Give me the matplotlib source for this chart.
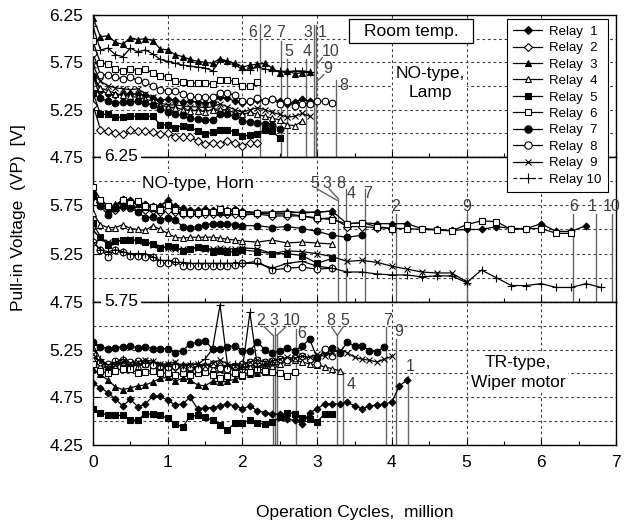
import numpy as np
import matplotlib
matplotlib.use("Agg")
import matplotlib.pyplot as plt
from matplotlib.lines import Line2D
from matplotlib.patches import Rectangle

plt.rcParams['font.family'] = ['Liberation Sans', 'DejaVu Sans']

# measurement schedules, million cycles
steps_01 = np.round(np.arange(0, 4.25, 0.1), 1)
steps_horn = np.round(np.concatenate([np.arange(0, 2.05, 0.1), np.arange(2.2, 6.85, 0.2)]), 1)

relay_ids = [1, 2, 3, 4, 5, 6, 7, 8, 9, 10]

# NO-type, Lamp  (pull-in voltage, V)
lamp_r1 = [5.60, 5.45, 5.42, 5.40, 5.42, 5.41, 5.42, 5.40, 5.37, 5.35, 5.36, 5.35, 5.33, 5.34, 5.33,
           5.32, 5.33, 5.38, 5.37, 5.34, 5.32, 5.33, 5.35, 5.34, 5.36, 5.34, 5.31, 5.33, 5.36, 5.34]
lamp_r2 = [5.30, 5.04, 5.02, 5.00, 4.99, 5.04, 5.02, 5.02, 5.01, 4.99, 5.00, 4.96, 4.96, 4.96, 4.92,
           4.89, 4.90, 4.89, 4.92, 4.90, 4.87, 4.90, 4.90]
lamp_r3 = [6.22, 6.02, 6.03, 5.96, 5.94, 6.01, 5.99, 6.00, 5.98, 5.89, 5.88, 5.83, 5.81, 5.78, 5.76,
           5.75, 5.74, 5.79, 5.76, 5.74, 5.70, 5.72, 5.73, 5.74, 5.69, 5.64, 5.66, 5.63, 5.64, 5.65]
lamp_r4 = [5.60, 5.48, 5.45, 5.42, 5.40, 5.39, 5.38, 5.36, 5.34, 5.30, 5.28, 5.27, 5.25, 5.24, 5.24,
           5.23, 5.25, 5.26, 5.24, 5.22, 5.20, 5.22, 5.20, 5.18, 5.16, 5.14, 5.09, 5.08, 5.13]
lamp_r5 = [5.43, 5.20, 5.20, 5.17, 5.17, 5.18, 5.18, 5.18, 5.18, 5.09, 5.09, 5.06, 5.08, 5.07, 5.02,
           4.99, 5.01, 5.04, 5.04, 5.01, 4.97, 4.98, 4.99, 5.04, 5.02, 4.95]
lamp_r6 = [5.97, 5.74, 5.73, 5.68, 5.66, 5.68, 5.66, 5.68, 5.64, 5.61, 5.60, 5.55, 5.54, 5.53, 5.53,
           5.53, 5.52, 5.56, 5.56, 5.55, 5.50, 5.50, 5.54]
lamp_r7 = [5.61, 5.37, 5.34, 5.32, 5.33, 5.33, 5.34, 5.32, 5.30, 5.26, 5.23, 5.20, 5.19, 5.16, 5.15,
           5.14, 5.14, 5.20, 5.20, 5.18, 5.13, 5.12, 5.11, 5.10, 5.09, 5.05]
lamp_r8 = [5.85, 5.62, 5.62, 5.60, 5.57, 5.59, 5.56, 5.54, 5.50, 5.46, 5.45, 5.45, 5.42, 5.39, 5.38,
           5.38, 5.38, 5.43, 5.43, 5.40, 5.34, 5.34, 5.37, 5.34, 5.36, 5.31, 5.34, 5.29, 5.31, 5.31,
           5.34, 5.34, 5.32]
lamp_r9 = [5.72, 5.55, 5.50, 5.48, 5.47, 5.46, 5.47, 5.42, 5.38, 5.32, 5.30, 5.30, 5.29, 5.28, 5.28,
           5.27, 5.28, 5.31, 5.28, 5.25, 5.22, 5.25, 5.27, 5.25, 5.22, 5.20, 5.17, 5.18, 5.21, 5.18]
lamp_r10 = [6.13, 5.88, 5.90, 5.83, 5.81, 5.90, 5.86, 5.88, 5.84, 5.78, 5.76, 5.74, 5.72, 5.71, 5.70,
            5.69, 5.66, 5.77, 5.76, 5.73, 5.67, 5.67, 5.70, 5.68, 5.66, 5.66, 5.65, 5.66, 5.66, 5.65]
lamp_life = [2.98, 2.23, 2.96, 2.85, 2.60, 2.23, 2.51, 3.25, 2.98, 2.98]

# NO-type, Horn
horn_r1 = [5.84, 5.78, 5.72, 5.74, 5.82, 5.80, 5.78, 5.76, 5.74, 5.74, 5.80, 5.74, 5.72, 5.70, 5.70,
           5.71, 5.70, 5.71, 5.70, 5.71, 5.69,
           5.67, 5.67, 5.67, 5.68, 5.68, 5.69, 5.56, 5.57, 5.56, 5.56, 5.56, 5.51, 5.50, 5.49, 5.50,
           5.50, 5.53, 5.51, 5.51, 5.56, 5.48, 5.48, 5.54]
horn_r2 = [5.86, 5.78, 5.72, 5.70, 5.73, 5.74, 5.72, 5.70, 5.70, 5.68, 5.70, 5.68, 5.66, 5.66, 5.66,
           5.66, 5.66, 5.67, 5.66, 5.66, 5.65,
           5.66, 5.64, 5.64, 5.64, 5.61, 5.62, 5.53, 5.53, 5.52, 5.51]
horn_r3 = [5.85, 5.78, 5.70, 5.76, 5.80, 5.78, 5.76, 5.73, 5.72, 5.74, 5.81, 5.72, 5.70, 5.69, 5.68,
           5.69, 5.69, 5.68, 5.68, 5.69, 5.68,
           5.68, 5.68, 5.69, 5.67, 5.68, 5.69]
horn_r4 = [5.67, 5.55, 5.52, 5.52, 5.55, 5.51, 5.50, 5.49, 5.54, 5.50, 5.46, 5.42, 5.41, 5.42, 5.42,
           5.42, 5.42, 5.41, 5.40, 5.39, 5.38,
           5.37, 5.39, 5.36, 5.37, 5.36, 5.35]
horn_r5 = [5.57, 5.42, 5.34, 5.38, 5.39, 5.39, 5.39, 5.37, 5.35, 5.31, 5.33, 5.32, 5.28, 5.30, 5.32,
           5.31, 5.27, 5.28, 5.27, 5.27, 5.29,
           5.27, 5.25, 5.25, 5.23, 5.15, 5.20]
horn_r6 = [5.94, 5.81, 5.74, 5.72, 5.80, 5.77, 5.79, 5.74, 5.73, 5.70, 5.75, 5.70, 5.67, 5.67, 5.67,
           5.68, 5.68, 5.71, 5.69, 5.69, 5.67,
           5.67, 5.66, 5.66, 5.64, 5.62, 5.60, 5.56, 5.57, 5.53, 5.51, 5.51, 5.50, 5.495, 5.485, 5.55,
           5.59, 5.58, 5.50, 5.51, 5.51, 5.46, 5.46]
horn_r7 = [5.87, 5.74, 5.65, 5.72, 5.74, 5.72, 5.68, 5.62, 5.63, 5.60, 5.62, 5.60, 5.53, 5.52, 5.53,
           5.55, 5.56, 5.56, 5.56, 5.55, 5.54,
           5.54, 5.52, 5.53, 5.51, 5.48, 5.44, 5.42, 5.44]
horn_r8 = [5.37, 5.29, 5.22, 5.29, 5.27, 5.23, 5.23, 5.22, 5.22, 5.15, 5.15, 5.17, 5.12, 5.12, 5.12,
           5.12, 5.12, 5.12, 5.12, 5.13, 5.15,
           5.17, 5.08, 5.10, 5.11, 5.09, 5.10]
horn_r9 = [5.49, 5.41, 5.37, 5.37, 5.39, 5.40, 5.38, 5.37, 5.34, 5.32, 5.31, 5.30, 5.30, 5.30, 5.31,
           5.30, 5.30, 5.31, 5.30, 5.30, 5.31,
           5.30, 5.25, 5.28, 5.27, 5.25, 5.22, 5.17, 5.18, 5.16, 5.12, 5.09, 5.06, 5.05, 5.05, 4.96]
horn_r10 = [5.37, 5.29, 5.27, 5.29, 5.27, 5.25, 5.25, 5.25, 5.22, 5.18, 5.18, 5.16, 5.16, 5.15, 5.15,
            5.15, 5.15, 5.15, 5.15, 5.15, 5.15,
            5.15, 5.10, 5.15, 5.17, 5.12, 5.10, 5.06, 5.06, 5.04, 5.03, 5.03, 5.01, 5.02, 5.02, 4.95,
            5.08, 5.00, 4.92, 4.92, 4.94, 4.90, 4.90, 4.94, 4.90]
horn_life = [6.73, 4.05, 3.28, 3.38, 3.28, 6.43, 3.64, 3.28, 5.00, 6.94]

# TR-type, Wiper motor
wiper_r1 = [4.90, 4.85, 4.80, 4.73, 4.66, 4.73, 4.65, 4.68, 4.76, 4.76, 4.72, 4.67, 4.68, 4.75, 4.63,
            4.64, 4.64, 4.66, 4.68, 4.66, 4.63, 4.66, 4.61, 4.59, 4.58, 4.57, 4.52, 4.51, 4.47, 4.59,
            4.63, 4.68, 4.68, 4.68, 4.70, 4.66, 4.63, 4.66, 4.67, 4.68, 4.70, 4.87, 4.93]
wiper_r2 = [5.18, 5.12, 5.08, 5.10, 5.12, 5.10, 5.11, 5.12, 5.10, 5.08, 5.06, 5.07, 5.08, 5.06, 5.05,
            5.08, 5.10, 5.08, 5.07, 5.06, 5.05, 5.08, 5.10, 5.09, 5.08]
wiper_r3 = [5.05, 4.99, 4.93, 4.86, 4.83, 4.85, 4.87, 4.88, 4.91, 4.95, 4.96, 4.92, 4.95, 4.93, 4.88,
            4.87, 4.92, 4.91, 4.92, 4.94, 4.97, 4.99, 5.00, 5.02, 5.03]
wiper_r4 = [5.15, 5.08, 5.05, 5.07, 5.12, 5.09, 5.08, 5.10, 5.09, 5.08, 5.10, 5.09, 5.07, 5.06, 5.08,
            5.09, 5.06, 5.05, 5.04, 5.06, 5.08, 5.07, 5.06, 5.07, 5.08, 5.10, 5.12, 5.14, 5.12, 5.10,
            5.09, 5.07, 5.05, 5.03]
wiper_r5 = [4.63, 4.59, 4.56, 4.56, 4.56, 4.51, 4.51, 4.58, 4.57, 4.56, 4.53, 4.47, 4.44, 4.55, 4.56,
            4.54, 4.51, 4.46, 4.41, 4.48, 4.48, 4.51, 4.48, 4.47, 4.49, 4.54, 4.59, 4.58, 4.53, 4.52,
            4.49, 4.58, 4.57]
wiper_r6 = [5.10, 5.03, 5.00, 5.03, 5.05, 5.05, 5.00, 5.02, 5.03, 5.01, 5.00, 4.98, 5.00, 4.98, 5.00,
            5.02, 4.98, 4.95, 4.97, 5.00, 4.98, 5.02, 5.05, 5.03, 5.02, 5.00, 4.97, 5.02]
wiper_r7 = [5.33, 5.28, 5.26, 5.27, 5.28, 5.29, 5.27, 5.28, 5.26, 5.26, 5.26, 5.22, 5.24, 5.31, 5.33,
            5.34, 5.26, 5.26, 5.28, 5.29, 5.24, 5.24, 5.33, 5.25, 5.21, 5.24, 5.27, 5.24, 5.29, 5.36,
            5.16, 5.24, 5.27, 5.21, 5.33, 5.29, 5.29, 5.24, 5.23, 5.28]
wiper_r8 = [5.20, 5.12, 5.10, 5.13, 5.14, 5.12, 5.13, 5.10, 5.09, 5.08, 5.07, 5.08, 5.06, 5.07, 5.05,
            5.07, 5.10, 5.06, 5.05, 5.08, 5.10, 5.12, 5.14, 5.12, 5.13, 5.15, 5.14, 5.16, 5.18, 5.15,
            5.10, 5.26, 5.18]
wiper_r9 = [5.20, 5.12, 5.09, 5.10, 5.12, 5.11, 5.12, 5.14, 5.13, 5.10, 5.10, 5.12, 5.08, 5.09, 5.10,
            5.08, 5.11, 5.14, 5.10, 5.08, 5.09, 5.12, 5.14, 5.12, 5.13, 5.15, 5.17, 5.16, 5.18, 5.17,
            5.20, 5.18, 5.22, 5.25, 5.22, 5.17, 5.15, 5.14, 5.12, 5.15, 5.18]
wiper_r10 = [5.30, 5.15, 5.05, 5.12, 5.15, 5.08, 5.10, 5.11, 5.12, 5.09, 5.08, 5.10, 5.09, 5.10, 5.10,
             5.15, 5.26, 5.72, 5.09, 5.10, 5.05, 5.64, 5.07, 5.10, 5.12]
wiper_life = [4.22, 2.41, 2.44, 3.35, 3.27, 2.72, 3.92, 3.27, 4.06, 2.46]

lamp = [lamp_r1, lamp_r2, lamp_r3, lamp_r4, lamp_r5, lamp_r6, lamp_r7, lamp_r8, lamp_r9, lamp_r10]
horn = [horn_r1, horn_r2, horn_r3, horn_r4, horn_r5, horn_r6, horn_r7, horn_r8, horn_r9, horn_r10]
wiper = [wiper_r1, wiper_r2, wiper_r3, wiper_r4, wiper_r5, wiper_r6, wiper_r7, wiper_r8, wiper_r9,
         wiper_r10]

# marker styles per relay
mk = {1: ('D', 'k', 3.5), 2: ('D', 'w', 3.8), 3: ('^', 'k', 4.5), 4: ('^', 'w', 4.5),
      5: ('s', 'k', 3.8), 6: ('s', 'w', 3.8), 7: ('o', 'k', 4.8), 8: ('o', 'w', 4.8),
      9: ('x', 'k', 4.5), 10: ('+', 'k', 6)}

fig = plt.figure(figsize=(6.34, 5.25), dpi=100)
L, W = 0.1467, 0.8249
ax_top = fig.add_axes([L, 0.7010, W, 0.2705])
ax_mid = fig.add_axes([L, 0.4248, W, 0.2762])
ax_bot = fig.add_axes([L, 0.1524, W, 0.2724])

panels = [
    (ax_top, lamp, steps_01, (4.75, 6.25), [4.75, 5.25, 5.75, 6.25]),
    (ax_mid, horn, steps_horn, (4.75, 6.25), [4.75, 5.25, 5.75]),
    (ax_bot, wiper, steps_01, (4.25, 5.75), [4.25, 4.75, 5.25]),
]

grid_kw = dict(ls=(0, (2.5, 2.5)), lw=0.8, color='0.25')
lead = dict(color='0.4', lw=1.0, zorder=2)
FS = 12.5

for ax, series, sched, ylim, yt in panels:
    ax.set_xlim(0, 7)
    ax.set_ylim(*ylim)
    ax.set_yticks(yt)
    ax.set_yticks(np.arange(ylim[0], ylim[1] + 0.01, 0.25), minor=True)
    ax.set_xticks(range(8))
    ax.set_xticks(np.arange(0.5, 7, 1.0), minor=True)
    ax.grid(True, which='both', axis='y', **grid_kw)
    ax.grid(True, which='major', axis='x', **grid_kw)
    ax.set_axisbelow(True)
    ax.tick_params(which='both', direction='in', labelsize=FS, width=0.8, pad=7)
    ax.tick_params(which='major', length=4)
    ax.tick_params(which='minor', length=3)
    ax.tick_params(axis='y', which='minor', length=0)
    for s in ax.spines.values():
        s.set_linewidth(1.0)
    for rid, vals in zip(relay_ids, series):
        m, fc, ms = mk[rid]
        ax.plot(sched[:len(vals)], vals, color='k', lw=0.9, marker=m, ms=ms,
                mfc=fc, mec='k', mew=0.8, zorder=3)

ax_top.tick_params(labelbottom=False)
ax_mid.tick_params(labelbottom=False)
ax_bot.set_yticklabels(['4.25', '4.75', '5.25'])

lbl = dict(fontsize=11.5, color='0.25', va='center', zorder=4)


def leader(ax, x, y_top, y_bot=None):
    if y_bot is None:
        y_bot = ax.get_ylim()[0]
    ax.plot([x, x], [y_top, y_bot], **lead)


# lamp end-of-life labels
lf = lamp_life
leader(ax_top, lf[5], 6.15)
ax_top.text(lf[5] - 0.03, 6.06, '6', ha='right', **lbl)
ax_top.text(lf[1] + 0.04, 6.06, '2', ha='left', **lbl)
leader(ax_top, lf[6], 5.97)
ax_top.text(lf[6], 6.06, '7', ha='center', **lbl)
leader(ax_top, lf[4], 5.78)
ax_top.text(lf[4] + 0.02, 5.86, '5', ha='center', **lbl)
leader(ax_top, lf[3], 5.78)
ax_top.text(lf[3] + 0.02, 5.86, '4', ha='center', **lbl)
leader(ax_top, lf[2], 6.14)
ax_top.text(lf[2] - 0.03, 6.06, '3', ha='right', **lbl)
leader(ax_top, lf[0], 6.14)
ax_top.text(lf[0] + 0.03, 6.06, '1', ha='left', **lbl)
ax_top.text(lf[9] + 0.08, 5.86, '10', ha='left', **lbl)
ax_top.plot([lf[9] + 0.09, lf[9] + 0.01], [5.80, 5.72], **lead)
ax_top.text(lf[8] + 0.10, 5.68, '9', ha='left', **lbl)
ax_top.plot([lf[8] + 0.11, lf[8] + 0.02], [5.62, 5.55], **lead)
leader(ax_top, lf[7], 5.56)
ax_top.text(lf[7] + 0.04, 5.50, '8', ha='left', **lbl)

# horn end-of-life labels
hf = horn_life
ax_mid.text(2.97, 5.98, '5', ha='center', **lbl)
ax_mid.plot([3.00, hf[4] - 0.01], [5.92, 5.80], **lead)
ax_mid.text(3.13, 5.98, '3', ha='center', **lbl)
ax_mid.plot([3.16, hf[2]], [5.92, 5.82], **lead)
ax_mid.text(3.32, 5.98, '8', ha='center', **lbl)
leader(ax_mid, hf[7], 5.82)
leader(ax_mid, hf[3], 5.92)
ax_mid.text(hf[3] + 0.07, 5.87, '4', ha='center', **lbl)
leader(ax_mid, hf[6], 5.92)
ax_mid.text(hf[6] + 0.04, 5.87, '7', ha='center', **lbl)
for i, t in [(1, '2'), (8, '9'), (5, '6'), (0, '1'), (9, '10')]:
    leader(ax_mid, hf[i], 5.66)
    ax_mid.text(hf[i] - (0.05 if i == 0 else 0), 5.74, t, ha='center', clip_on=False, **lbl)

# wiper end-of-life labels
wf = wiper_life
ax_bot.text(2.24, 5.56, '2', ha='center', **lbl)
ax_bot.plot([2.29, wf[1]], [5.49, 5.40], **lead)
leader(ax_bot, wf[1], 5.40)
ax_bot.text(2.42, 5.56, '3', ha='center', **lbl)
leader(ax_bot, wf[2], 5.48)
ax_bot.text(2.66, 5.56, '10', ha='center', **lbl)
ax_bot.plot([2.58, wf[9]], [5.49, 5.40], **lead)
leader(ax_bot, wf[9], 5.40)
leader(ax_bot, wf[5], 5.47)
ax_bot.text(wf[5] + 0.07, 5.42, '6', ha='center', **lbl)
ax_bot.text(3.18, 5.56, '8', ha='center', **lbl)
ax_bot.plot([3.19, wf[7]], [5.49, 5.40], **lead)
ax_bot.text(3.37, 5.56, '5', ha='center', **lbl)
ax_bot.plot([3.35, wf[4]], [5.49, 5.40], **lead)
leader(ax_bot, wf[4], 5.40)
leader(ax_bot, wf[3], 5.02)
ax_bot.text(wf[3] + 0.10, 4.88, '4', ha='center', **lbl)
leader(ax_bot, wf[6], 5.49)
ax_bot.text(wf[6] + 0.02, 5.56, '7', ha='center', **lbl)
leader(ax_bot, wf[8], 5.36)
ax_bot.text(wf[8] + 0.03, 5.44, '9', ha='center', **lbl)
leader(ax_bot, wf[0], 4.97)
ax_bot.text(wf[0] + 0.02, 5.07, '1', ha='center', **lbl)

# panel annotations
wbox = dict(facecolor='white', edgecolor='none', pad=1.5)
ax_top.add_patch(Rectangle((3.43, 5.955), 1.66, 0.253, facecolor='white', edgecolor='k',
                           lw=0.9, zorder=4))
ax_top.text(4.26, 6.08, 'Room temp.', ha='center', va='center', fontsize=FS, zorder=5)
ax_top.text(4.51, 5.53, 'NO-type,\nLamp', ha='center', va='center', fontsize=FS,
            linespacing=1.35, bbox=wbox, zorder=4)
ax_mid.text(0.66, 5.98, 'NO-type, Horn', ha='left', va='center', fontsize=FS, bbox=wbox, zorder=4)
ax_bot.text(5.69, 5.01, 'TR-type,\nWiper motor', ha='center', va='center', fontsize=FS,
            linespacing=1.35, bbox=wbox, zorder=4)
ax_mid.text(0.15, 6.25, '6.25', ha='left', va='center', fontsize=FS,
            bbox=dict(facecolor='white', edgecolor='none', pad=2), clip_on=False, zorder=6)
ax_bot.text(0.15, 5.75, '5.75', ha='left', va='center', fontsize=FS,
            bbox=dict(facecolor='white', edgecolor='none', pad=2), clip_on=False, zorder=6)

# legend
handles = []
for rid in relay_ids:
    m, fc, ms = mk[rid]
    handles.append(Line2D([], [], color='k', lw=0.9, marker=m, ms=ms + 0.5, mfc=fc, mec='k',
                          mew=0.8, ls=(0, (3, 2)) if rid == 10 else '-'))
labels = ['Relay  %d' % r if r < 10 else 'Relay %d' % r for r in relay_ids]
leg = fig.legend(handles, labels, loc='upper right', bbox_to_anchor=(0.959, 0.964),
                 fontsize=9.5, frameon=True, fancybox=False, edgecolor='k', framealpha=1,
                 handlelength=2.2, labelspacing=0.32, borderpad=0.5, handletextpad=0.5,
                 borderaxespad=0)
leg.get_frame().set_linewidth(0.8)

fig.text(0.029, 0.585, 'Pull-in Voltage  (VP)  [V]', rotation=90, ha='center', va='center',
         fontsize=FS)
fig.text(0.56, 0.023, 'Operation Cycles,  million', ha='center', va='center', fontsize=FS)

fig.savefig('out.png', dpi=100)
